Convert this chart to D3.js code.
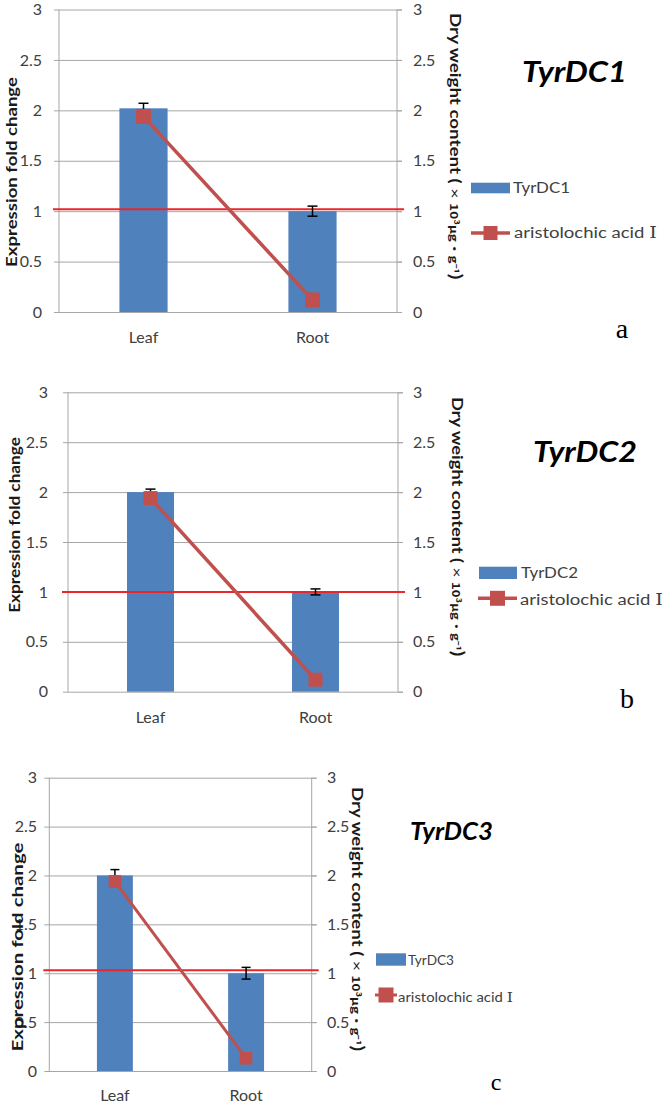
<!DOCTYPE html>
<html><head><meta charset="utf-8">
<script src="https://cdn.jsdelivr.net/npm/d3@7"></script>
<style>body{margin:0;background:#fff}svg{display:block}</style>
</head><body>
<script>
// ---------------- data ----------------
const categories = ["Leaf", "Root"];
const geneNames = ["TyrDC1", "TyrDC2", "TyrDC3"];
const panelLetters = ["a", "b", "c"];
const expressionA = [2.02, 1.00];
const expressionErrA = [0.05, 0.05];
const acidA = [1.94, 0.12];
const expressionB = [2.00, 1.00];
const expressionErrB = [0.03, 0.03];
const acidB = [1.94, 0.12];
const expressionC = [2.00, 1.00];
const expressionErrC = [0.06, 0.06];
const acidC = [1.94, 0.13];
const referenceLevels = [1.02, 1.00, 1.03];
const yTicks = [0, 0.5, 1, 1.5, 2, 2.5, 3];
const yTickLabels = ["0", "0.5", "1", "1.5", "2", "2.5", "3"];
const lineSeriesName = "aristolochic acid ";
const romanOne = "Ⅰ";
const leftAxisTitle = "Expression fold change";
const rightAxisTitleMain = "Dry weight content (";
const rightAxisTitleTimes = " × ";
const rightAxisTitleUnit = "10³μg·g⁻¹";
const rightAxisTitleEnd = ")";

// ---------------- layout ----------------
const FONT = "Lato, 'Open Sans', sans-serif";
const BAR = "#4F81BD", LINE = "#C0504D", REF = "#E8262B", GRID = "#A6A6A6", TXT = "#404040";
const layouts = [
  {L:59, R:397, T:9.5, B:312, barFrac:0.285, tickFs:16, leftLabelX:42, rightLabelX:413, catY:343, catFs:16,
   lTitle:{x:12, cy:172, len:190, fs:15}, rTitle:{x:455, y0:13, len:267, fs:15},
   title:{x:522, y:82, len:105, fs:28},
   legend:{rx0:471, rx1:510, rectY:182.7, rectH:10.6, t1x:513, t1y:193, t1len:57,
           lx0:471, lx1:510, lineY:233, mk:14, t2x:514, t2y:238, t2len:143, fs:16},
   letter:{x:622, y:338, fs:28}, mk:15, lw:3.5, cap:10},
  {L:68, R:398, T:392.3, B:691.7, barFrac:0.285, tickFs:16, leftLabelX:48, rightLabelX:413, catY:723, catFs:16,
   lTitle:{x:15, cy:525, len:176, fs:15}, rTitle:{x:457, y0:397, len:260, fs:15},
   title:{x:533, y:462, len:104, fs:28},
   legend:{rx0:479, rx1:517, rectY:566.7, rectH:12.3, t1x:521, t1y:578, t1len:57,
           lx0:478, lx1:517, lineY:598.3, mk:15, t2x:520, t2y:605, t2len:143, fs:16},
   letter:{x:627, y:708, fs:28}, mk:14, lw:3.5, cap:10},
  {L:49.3, R:311.7, T:777.7, B:1071, barFrac:0.274, tickFs:16, leftLabelX:37, rightLabelX:327, catY:1101, catFs:16,
   lTitle:{x:17, cy:947, len:209, fs:16}, rTitle:{x:357, y0:787, len:265, fs:15},
   title:{x:410, y:840, len:83, fs:24},
   legend:{rx0:376, rx1:406, rectY:953.3, rectH:12.4, t1x:408, t1y:965, t1len:46,
           lx0:375, lx1:397, lineY:995, mk:15, t2x:398, t2y:1002, t2len:115, fs:13},
   letter:{x:496, y:1090, fs:24}, mk:12.5, lw:3, cap:9}
];

const panels = [
  {gene: geneNames[0], letter: panelLetters[0], bars: expressionA, err: expressionErrA, acid: acidA, ref: referenceLevels[0]},
  {gene: geneNames[1], letter: panelLetters[1], bars: expressionB, err: expressionErrB, acid: acidB, ref: referenceLevels[1]},
  {gene: geneNames[2], letter: panelLetters[2], bars: expressionC, err: expressionErrC, acid: acidC, ref: referenceLevels[2]}
];

const svg = d3.select("body").append("svg").attr("width", 666).attr("height", 1104)
  .style("background", "#fff");

function fit(textSel, target) {
  const w = textSel.node().getComputedTextLength();
  if (w > 0) textSel.attr("transform", `scale(${target / w},1)`);
}

panels.forEach((p, i) => {
  const lay = layouts[i];
  const g = svg.append("g");
  const x = d3.scaleBand().domain(categories).range([lay.L, lay.R]).paddingInner(0).paddingOuter(0);
  const y = d3.scaleLinear().domain([0, 3]).range([lay.B, lay.T]);
  const y2 = d3.scaleLinear().domain([0, 3]).range([lay.B, lay.T]);
  const W = lay.R - lay.L;

  // left axis + gridlines
  const axL = g.append("g").attr("transform", `translate(${lay.L},0)`)
    .call(d3.axisLeft(y).tickValues(yTicks).tickFormat((d, j) => yTickLabels[j])
      .tickSizeInner(-W).tickSizeOuter(0).tickPadding(lay.L - lay.leftLabelX));
  axL.select(".domain").remove();
  axL.selectAll(".tick line").attr("x1", -5).attr("x2", W + 5).attr("stroke", GRID).attr("stroke-width", 1);
  axL.selectAll(".tick text").attr("font-family", FONT).attr("font-size", lay.tickFs).attr("fill", TXT);

  // right axis
  const axR = g.append("g").attr("transform", `translate(${lay.R},0)`)
    .call(d3.axisRight(y2).tickValues(yTicks).tickFormat((d, j) => yTickLabels[j])
      .tickSizeInner(5).tickSizeOuter(0).tickPadding(lay.rightLabelX - lay.R - 5));
  axR.select(".domain").remove();
  axR.selectAll(".tick line").attr("stroke", GRID);
  axR.selectAll(".tick text").attr("font-family", FONT).attr("font-size", lay.tickFs).attr("fill", TXT);

  // vertical axis lines
  g.append("line").attr("x1", lay.L).attr("x2", lay.L).attr("y1", lay.T).attr("y2", lay.B).attr("stroke", GRID);
  g.append("line").attr("x1", lay.R).attr("x2", lay.R).attr("y1", lay.T).attr("y2", lay.B).attr("stroke", GRID);

  // category axis
  const axB = g.append("g").attr("transform", `translate(0,${lay.B})`)
    .call(d3.axisBottom(x).tickSize(0));
  axB.select(".domain").remove();
  axB.selectAll(".tick text").attr("y", lay.catY - lay.B).attr("dy", null)
    .attr("font-family", FONT).attr("font-size", lay.catFs).attr("fill", TXT);

  const bw = x.bandwidth() * lay.barFrac;
  const cx = c => x(c) + x.bandwidth() / 2;

  // bars
  g.selectAll("rect.bar").data(categories).join("rect").attr("class", "bar")
    .attr("x", c => cx(c) - bw / 2).attr("width", bw)
    .attr("y", (c, j) => y(p.bars[j])).attr("height", (c, j) => lay.B - y(p.bars[j]))
    .attr("fill", BAR);

  // reference line
  g.append("line").attr("x1", lay.L - 6).attr("x2", lay.R + 7)
    .attr("y1", y(p.ref)).attr("y2", y(p.ref)).attr("stroke", REF).attr("stroke-width", 2);

  // error bars
  const eb = g.selectAll("g.err").data(categories).join("g").attr("class", "err");
  eb.append("line").attr("x1", c => cx(c)).attr("x2", c => cx(c))
    .attr("y1", (c, j) => y(p.bars[j] - p.err[j])).attr("y2", (c, j) => y(p.bars[j] + p.err[j]))
    .attr("stroke", "#000").attr("stroke-width", 1.5);
  [-1, 1].forEach(s => {
    eb.append("line").attr("x1", c => cx(c) - lay.cap / 2).attr("x2", c => cx(c) + lay.cap / 2)
      .attr("y1", (c, j) => y(p.bars[j] + s * p.err[j])).attr("y2", (c, j) => y(p.bars[j] + s * p.err[j]))
      .attr("stroke", "#000").attr("stroke-width", 1.5);
  });

  // acid line (secondary axis)
  const line = d3.line().x((d, j) => cx(categories[j])).y(d => y2(d));
  g.append("path").datum(p.acid).attr("d", line).attr("fill", "none")
    .attr("stroke", LINE).attr("stroke-width", lay.lw);
  g.selectAll("rect.mk").data(p.acid).join("rect").attr("class", "mk")
    .attr("x", (d, j) => cx(categories[j]) - lay.mk / 2).attr("y", d => y2(d) - lay.mk / 2)
    .attr("width", lay.mk).attr("height", lay.mk).attr("fill", LINE);

  // left axis title
  const lt = lay.lTitle;
  const ltg = g.append("g").attr("transform", `translate(${lt.x},${lt.cy}) rotate(-90)`);
  const ltt = ltg.append("text").attr("text-anchor", "middle").attr("dy", "0.35em")
    .attr("font-family", FONT).attr("font-weight", "bold").attr("font-size", lt.fs).attr("fill", "#1a1a1a")
    .text(leftAxisTitle);
  fit(ltt, lt.len);

  // right axis title
  const rt = lay.rTitle;
  const rtg = g.append("g").attr("transform", `translate(${rt.x},${rt.y0}) rotate(90)`);
  const rtt = rtg.append("text").attr("text-anchor", "start").attr("dy", "0.35em")
    .attr("font-family", FONT).attr("font-size", rt.fs).attr("fill", "#1a1a1a");
  rtt.append("tspan").attr("font-weight", "bold").text(rightAxisTitleMain);
  rtt.append("tspan").attr("font-size", rt.fs * 0.95).text(rightAxisTitleTimes);
  rtt.append("tspan").attr("font-weight", "bold").attr("font-size", rt.fs * 0.72)
    .attr("font-family", "'Noto Sans CJK SC', sans-serif").text(rightAxisTitleUnit);
  rtt.append("tspan").attr("font-weight", "bold").attr("font-size", rt.fs * 1.1).text(rightAxisTitleEnd);
  fit(rtt, rt.len);

  // gene title
  const tt = lay.title;
  const ttg = g.append("g").attr("transform", `translate(${tt.x},${tt.y})`);
  const ttt = ttg.append("text").attr("font-family", FONT).attr("font-weight", "bold")
    .attr("font-style", "italic").attr("font-size", tt.fs).attr("fill", "#000").text(p.gene);
  fit(ttt, tt.len);

  // legend
  const lg = lay.legend;
  g.append("rect").attr("x", lg.rx0).attr("y", lg.rectY).attr("width", lg.rx1 - lg.rx0)
    .attr("height", lg.rectH).attr("fill", BAR);
  const l1 = g.append("g").attr("transform", `translate(${lg.t1x},${lg.t1y})`)
    .append("text").attr("font-family", FONT).attr("font-size", lg.fs).attr("fill", TXT).text(p.gene);
  fit(l1, lg.t1len);
  g.append("line").attr("x1", lg.lx0).attr("x2", lg.lx1).attr("y1", lg.lineY).attr("y2", lg.lineY)
    .attr("stroke", LINE).attr("stroke-width", lay.lw);
  g.append("rect").attr("x", (lg.lx0 + lg.lx1) / 2 - lg.mk / 2).attr("y", lg.lineY - lg.mk / 2)
    .attr("width", lg.mk).attr("height", lg.mk).attr("fill", LINE);
  const l2 = g.append("g").attr("transform", `translate(${lg.t2x},${lg.t2y})`)
    .append("text").attr("font-family", FONT).attr("font-size", lg.fs).attr("fill", TXT);
  l2.append("tspan").text(lineSeriesName);
  l2.append("tspan").attr("font-family", "'DejaVu Serif', serif").attr("font-size", lg.fs * 1.05).text(romanOne);
  fit(l2, lg.t2len);

  // panel letter
  g.append("text").attr("x", lay.letter.x).attr("y", lay.letter.y).attr("text-anchor", "middle")
    .attr("font-family", "'Liberation Serif', 'Times New Roman', serif").attr("font-size", lay.letter.fs)
    .attr("fill", "#000").text(p.letter);
});
</script>
</body></html>
